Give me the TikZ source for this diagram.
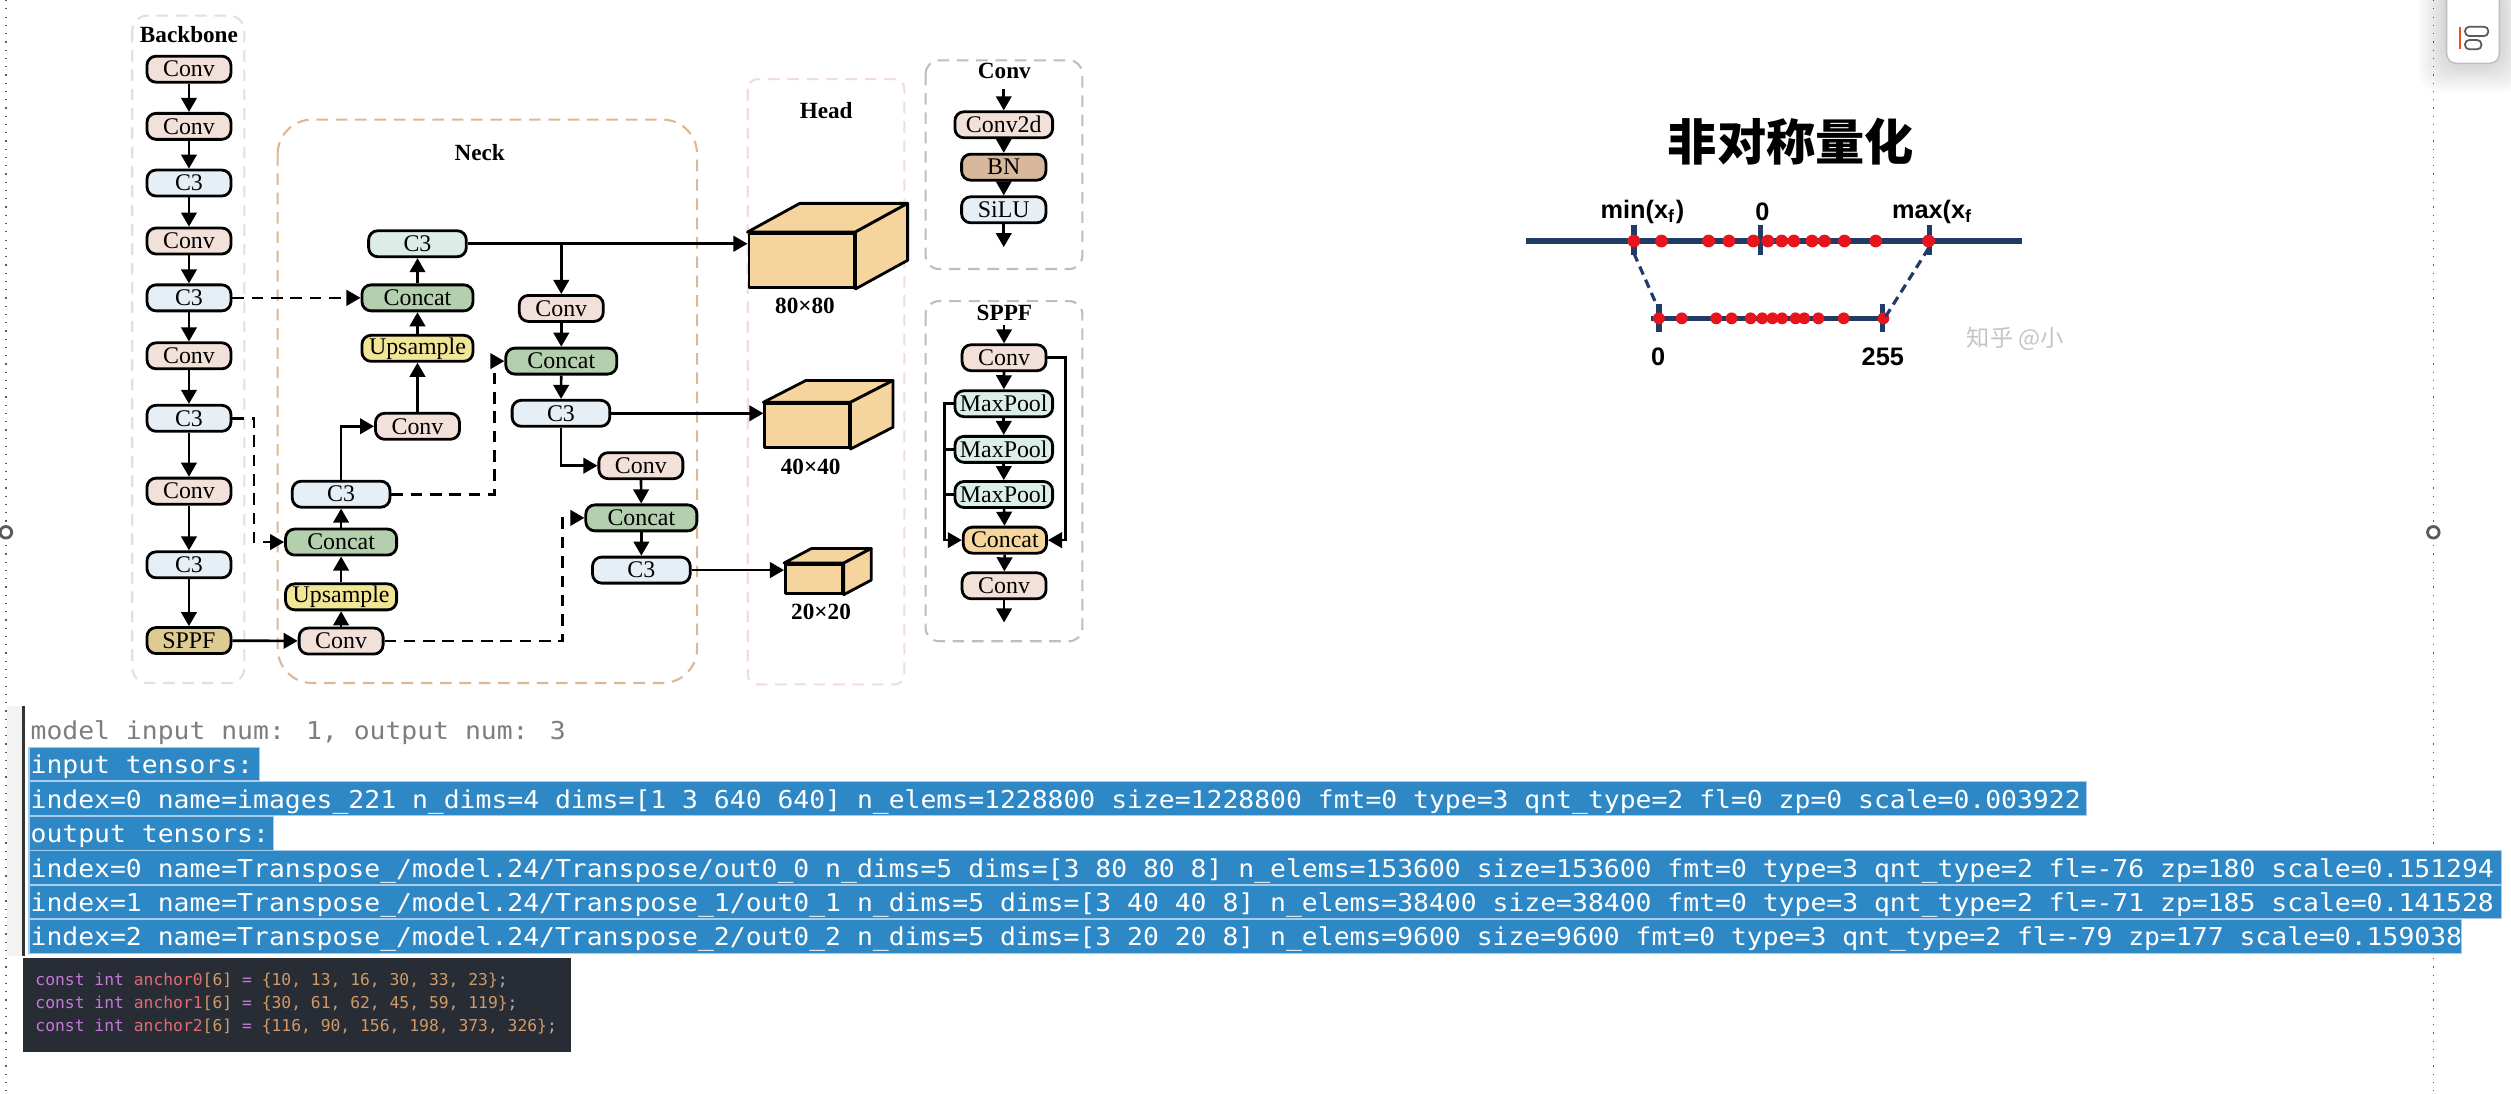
\documentclass[tikz,border=0pt]{standalone}
\usepackage{fontspec}
\usepackage{xcolor}
\setmainfont{Liberation Serif}
\newfontfamily\cjk{Noto Sans CJK SC}
\newfontfamily\qsans{Liberation Sans}
\newfontfamily\logfont[FakeStretch=1.073]{DejaVu Sans Mono}
\newfontfamily\srcfont{DejaVu Sans Mono}
\usetikzlibrary{arrows.meta,calc}
\definecolor{convc}{HTML}{F2E1D9}
\definecolor{cthrc}{HTML}{E6EFF6}
\definecolor{ctopc}{HTML}{DCEDE7}
\definecolor{catc}{HTML}{B4CFAE}
\definecolor{upc}{HTML}{F1E596}
\definecolor{sppfc}{HTML}{DDCB92}
\definecolor{bnc}{HTML}{D8B89C}
\definecolor{poolc}{HTML}{DCEEEA}
\definecolor{catsc}{HTML}{F6D69D}
\definecolor{cubec}{HTML}{F5D59D}
\definecolor{bbonec}{HTML}{D6E3EC}
\definecolor{neckc}{HTML}{DEB893}
\definecolor{headc}{HTML}{F2DCDC}
\definecolor{modc}{HTML}{BEBEBE}
\definecolor{axisc}{HTML}{1F3B66}
\definecolor{dotc}{HTML}{E8141B}
\definecolor{wmc}{HTML}{C4C4C4}
\definecolor{selc}{HTML}{2E88C6}
\definecolor{selln}{HTML}{A8CCEA}
\definecolor{greytx}{HTML}{7E7E7E}
\definecolor{darkbg}{HTML}{282C34}
\definecolor{kwc}{HTML}{C678DD}
\definecolor{idc}{HTML}{E06C75}
\definecolor{numc}{HTML}{D19A66}
\definecolor{punc}{HTML}{ABB2BF}
\definecolor{edgec}{HTML}{5A5A5A}
\definecolor{markc}{HTML}{E8501E}
\definecolor{gutc}{HTML}{F3F3F3}
\definecolor{gutln}{HTML}{333333}

\begin{document}
\begin{tikzpicture}[x=0.16014mm,y=-0.16014mm,
  >={Triangle[length=4pt,width=4.4pt]},
  blk/.style={draw,line width=0.8pt,rounded corners=2.6pt,minimum height=7.4pt,inner sep=0pt,font=\fontsize{6.8}{7}\selectfont},
  conv/.style={blk,fill=convc,minimum width=23.9pt},
  cthree/.style={blk,fill=cthrc,minimum width=27.8pt},
  cat/.style={blk,fill=catc,minimum width=31.6pt},
  ups/.style={blk,fill=upc,minimum width=31.6pt},
  pool/.style={blk,fill=poolc,minimum width=27.8pt},
  link/.style={line width=0.75pt,->},
  dlink/.style={link,dash pattern=on 3.3pt off 2.2pt},
  grp/.style={dash pattern=on 3.3pt off 2.2pt,line width=0.6pt},
  ttl/.style={font=\bfseries\fontsize{6.6}{7}\selectfont,inner sep=0pt},
  cube/.style={draw,line width=0.8pt,fill=cubec,line join=round},
  qline/.style={axisc,line width=1.6pt},
  qlbl/.style={font=\qsans\bfseries\fontsize{7.2}{8}\selectfont,inner sep=0pt},
  logln/.style={anchor=base west,inner sep=0pt,font=\logfont\fontsize{7}{8}\selectfont},
  sel/.style={fill=selc,draw=selln,line width=0.3pt},
  srcln/.style={anchor=base west,inner sep=0pt,font=\srcfont\fontsize{4.65}{5}\selectfont},
]
\useasboundingbox (0,0) rectangle (1568,683);
\fill[white] (0,0) rectangle (1568,683);

% window edges
\foreach \x in {3.7,1519.5}
  \draw[edgec,dotted,line width=0.35pt] (\x,0) -- (\x,683);
\foreach \x in {3.7,1519.5}
  \draw[edgec,fill=white,line width=0.8pt] (\x,332.4) circle (3.6);
\foreach \i in {1,...,8}
  \fill[black,opacity=0.018,rounded corners=6pt] (1527.8-\i*2.2,-8) rectangle (1560.7+\i*2.2,39.5+\i*2.2);
\draw[fill=white,draw=modc,line width=0.4pt,rounded corners=2.7pt] (1527.8,-8) rectangle (1560.7,39.5);
\draw[markc,line width=0.5pt] (1536.1,16.7) -- (1536.1,30.8);
\draw[edgec,line width=0.5pt,rounded corners=1.2pt] (1539.3,16.7) rectangle (1553.8,22.5);
\draw[edgec,line width=0.5pt,rounded corners=1.2pt] (1539.3,25) rectangle (1549.5,30.8);

% backbone
\def\bx{118}
\draw[grp,bbonec,rounded corners=4.3pt] (82.6,9.8) rectangle (152.6,426.5);
\node[ttl] (tbb) at (\bx,21.7) {Backbone};
\foreach \n/\y/\c/\t in {b1/43.2/convc/Conv,b2/78.9/convc/Conv,b3/114.3/cthrc/C3,b4/150.5/convc/Conv,b5/186/cthrc/C3,b6/222.2/convc/Conv,b7/261.2/cthrc/C3,b8/306.7/convc/Conv,b9/352.7/cthrc/C3,b10/400/sppfc/SPPF}
  \node[blk,fill=\c,minimum width=23.9pt] (\n) at (\bx,\y) {\t};
\foreach \a/\b in {b1/b2,b2/b3,b3/b4,b4/b5,b5/b6,b6/b7,b7/b8,b8/b9,b9/b10}
  \draw[link] (\a) -- (\b);

% neck
\draw[grp,neckc,rounded corners=9.8pt] (173.4,74.7) rectangle (435.3,426.5);
\node[ttl] (tnk) at (299.5,95.3) {Neck};
\node[cthree,fill=ctopc] (n1) at (260.7,152.2) {C3};
\node[cat] (n2) at (260.7,186) {Concat};
\node[ups] (n3) at (260.7,217.5) {Upsample};
\node[conv] (n4) at (260.7,266.2) {Conv};
\node[cthree] (n5) at (213,308.6) {C3};
\node[cat] (n6) at (213,338.5) {Concat};
\node[ups] (n7) at (213,372.7) {Upsample};
\node[conv] (n8) at (213,400.3) {Conv};
\node[conv] (r1) at (350.5,192.6) {Conv};
\node[cat] (r2) at (350.5,225.5) {Concat};
\node[cthree] (r3) at (350.3,258.1) {C3};
\node[conv] (r4) at (400.2,290.8) {Conv};
\node[cat] (r5) at (400.5,323.4) {Concat};
\node[cthree] (r6) at (400.5,356) {C3};
\coordinate (k1) at (158.6,338.5);
\coordinate (k2) at (308.6,225.5);
\coordinate (k3) at (351.3,323.4);
\draw[dlink] (b5) -- (n2);
\draw[dlink] (b7.east) -| (k1) -- (n6.west);
\draw[link] (b10) -- (n8);
\foreach \a/\b in {n8/n7,n7/n6,n6/n5,n4/n3,n3/n2,n2/n1,r1/r2,r2/r3,r4/r5,r5/r6}
  \draw[link] (\a) -- (\b);
\draw[link] (n5.north) |- (n4.west);
\draw[link] (n1.east -| r1.north) -- (r1.north);
\draw[dlink] (n5.east) -| (k2) -- (r2.west);
\draw[link] (r3.south) |- (r4.west);
\draw[dlink] (n8.east) -| (k3) -- (r5.west);

% head
\draw[grp,headc,rounded corners=2.8pt] (466.9,49.4) rectangle (564.7,427.4);
\node[ttl] (thd) at (515.9,69) {Head};
\node[cube,minimum width=29.9pt,minimum height=15.4pt,inner sep=0pt,anchor=north west] (h1) at (466.8,144.9) {};
\node[cube,minimum width=24pt,minimum height=12.5pt,inner sep=0pt,anchor=north west] (h2) at (476.7,251.2) {};
\node[cube,minimum width=16.2pt,minimum height=8.2pt,inner sep=0pt,anchor=north west] (h3) at (489.6,351.6) {};
\foreach \h/\dx/\dy in {h1/32.6/-17.9,h2/26.5/-13.6,h3/17.1/-9.1}{
  \draw[cube] (\h.north west) -- ++(\dx,\dy) -- ($(\h.north east)+(\dx,\dy)$) -- (\h.north east) -- cycle;
  \draw[cube] (\h.north east) -- ++(\dx,\dy) -- ($(\h.south east)+(\dx,\dy)$) -- (\h.south east) -- cycle;
}
\node[ttl] (l1) at (502.7,190.8) {80×80};
\node[ttl] (l2) at (506.2,291.8) {40×40};
\node[ttl] (l3) at (512.7,382.2) {20×20};
\draw[link] (n1.east) -- (n1.east -| h1.west);
\draw[link] (r3.east) -- (r3.east -| h2.west);
\draw[link] (r6.east) -- (r6.east -| h3.west);

% conv module
\draw[grp,modc,rounded corners=3.8pt] (578,37.7) rectangle (675.9,168);
\node[ttl] (tcv) at (627.2,44.2) {Conv};
\node[pool,fill=convc] (m1) at (626.8,77.9) {Conv2d};
\node[blk,fill=bnc,minimum width=24pt] (m2) at (626.8,104.4) {BN};
\node[blk,fill=cthrc,minimum width=24pt] (m3) at (626.8,131) {SiLU};
\coordinate (mi) at (626.8,55.8);
\coordinate (mo) at (626.8,154.3);
\draw[link] (mi) -- (m1);
\draw[link] (m1) -- (m2);
\draw[link] (m2) -- (m3);
\draw[link] (m3) -- (mo);

% sppf module
\draw[grp,modc,rounded corners=3.8pt] (578,188) rectangle (675.9,400.4);
\node[ttl] (tsp) at (627.2,195.7) {SPPF};
\node[conv] (s1) at (627,223.4) {Conv};
\node[pool] (s2) at (626.8,252.1) {MaxPool};
\node[pool] (s3) at (626.8,280.6) {MaxPool};
\node[pool] (s4) at (626.8,308.8) {MaxPool};
\node[blk,fill=catsc,minimum width=23.7pt] (s5) at (627.5,337.3) {Concat};
\node[conv] (s6) at (627,365.8) {Conv};
\coordinate (si) at (627,203);
\coordinate (so) at (627,388.7);
\coordinate (sl) at (589.7,337.3);
\coordinate (sr) at (665.5,337.3);
\draw[link] (si) -- (s1);
\foreach \a/\b in {s1/s2,s2/s3,s3/s4,s4/s5,s5/s6}
  \draw[link] (\a) -- (\b);
\draw[link] (s6) -- (so);
\draw[link] (s2.west) -| (sl) -- (s5.west);
\draw[line width=0.75pt] (s3.west) -- (s3.west -| sl);
\draw[line width=0.75pt] (s4.west) -- (s4.west -| sl);
\draw[link] (s1.east) -| (sr) -- (s5.east);

% quantization
\node[font=\cjk\bfseries\fontsize{14}{16}\selectfont,inner sep=0pt] (qt) at (1118.3,88.5) {非对称量化};
\draw[qline] (953,150.5) -- (1262.9,150.5);
\draw[qline] (1031.1,198.8) -- (1178,198.8);
\foreach \x in {1020.3,1099.2,1204.8}
  \draw[qline,line width=1.5pt] (\x,140.5) -- (\x,159.2);
\foreach \x in {1035.9,1175.7}
  \draw[qline,line width=1.5pt] (\x,189.8) -- (\x,207.1);
\foreach \x in {1020.3,1037.5,1066.9,1079.6,1094.9,1104,1112.6,1120.2,1131.5,1139.3,1151.8,1171.3,1204.3}
  \fill[dotc] (\x,150.5) circle (4);
\foreach \x in {1035.9,1050.2,1071.7,1081.3,1093.2,1100.4,1106.8,1112.8,1121.2,1126.7,1135.5,1151.3,1176.1}
  \fill[dotc] (\x,198.8) circle (3.7);
\draw[axisc,line width=0.9pt,dash pattern=on 2.5pt off 1.6pt] (1020.3,158.2) -- (1035.9,193.6);
\draw[axisc,line width=0.9pt,dash pattern=on 2.5pt off 1.6pt] (1204.3,155) -- (1176.8,198.8);
\node[qlbl] (qmin) at (1025.6,132.2) {min(x\textsubscript{f})};
\node[qlbl] (qz) at (1100.6,132.2) {0};
\node[qlbl] (qmax) at (1206.7,132.2) {max(x\textsubscript{f}};
\node[qlbl] (bz) at (1035.4,222.7) {0};
\node[qlbl] (bmax) at (1175.7,222.7) {255};
\node[anchor=west,text=wmc,font=\cjk\fontsize{6.6}{7}\selectfont,inner sep=0pt] (wm) at (1227.8,211.3) {知乎 @小};

% log output
\fill[gutc] (4.2,441) rectangle (14.2,597);
\draw[gutln,line width=0.8pt] (14.6,441) -- (14.6,597);
\draw[sel] (18.1,466.9) rectangle (162,487.7);
\draw[sel] (18.1,488.1) rectangle (1302.8,509.5);
\draw[sel] (18.1,509.9) rectangle (170.8,530.8);
\draw[sel] (18.1,531.2) rectangle (1562.3,552.4);
\draw[sel] (18.1,552.8) rectangle (1562.3,573.8);
\draw[sel] (18.1,574.2) rectangle (1536.8,595.7);
\node[logln,text=greytx] (o1) at (18.7,461.7) {model input num: 1, output num: 3};
\node[logln,text=white] (o2) at (18.7,483.2) {input tensors:};
\node[logln,text=white] (o3) at (18.7,504.7) {index=0 name=images\_221 n\_dims=4 dims=[1 3 640 640] n\_elems=1228800 size=1228800 fmt=0 type=3 qnt\_type=2 fl=0 zp=0 scale=0.003922};
\node[logln,text=white] (o4) at (18.7,526.2) {output tensors:};
\node[logln,text=white] (o5) at (18.7,547.7) {index=0 name=Transpose\_/model.24/Transpose/out0\_0 n\_dims=5 dims=[3 80 80 8] n\_elems=153600 size=153600 fmt=0 type=3 qnt\_type=2 fl=-76 zp=180 scale=0.151294};
\node[logln,text=white] (o6) at (18.7,569.2) {index=1 name=Transpose\_/model.24/Transpose\_1/out0\_1 n\_dims=5 dims=[3 40 40 8] n\_elems=38400 size=38400 fmt=0 type=3 qnt\_type=2 fl=-71 zp=185 scale=0.141528};
\node[logln,text=white] (o7) at (18.7,590.7) {index=2 name=Transpose\_/model.24/Transpose\_2/out0\_2 n\_dims=5 dims=[3 20 20 8] n\_elems=9600 size=9600 fmt=0 type=3 qnt\_type=2 fl=-79 zp=177 scale=0.159038};

% anchors snippet
\fill[darkbg] (14.5,598.4) rectangle (356.3,656.7);
\node[srcln] (a0) at (21.7,615.1) {\color{kwc}const int \color{idc}anchor0\color{numc}[6] \color{kwc}= \color{numc}\{10, 13, 16, 30, 33, 23\}\color{punc};};
\node[srcln] (a1) at (21.7,629.7) {\color{kwc}const int \color{idc}anchor1\color{numc}[6] \color{kwc}= \color{numc}\{30, 61, 62, 45, 59, 119\}\color{punc};};
\node[srcln] (a2) at (21.7,644.2) {\color{kwc}const int \color{idc}anchor2\color{numc}[6] \color{kwc}= \color{numc}\{116, 90, 156, 198, 373, 326\}\color{punc};};
\end{tikzpicture}
\end{document}
